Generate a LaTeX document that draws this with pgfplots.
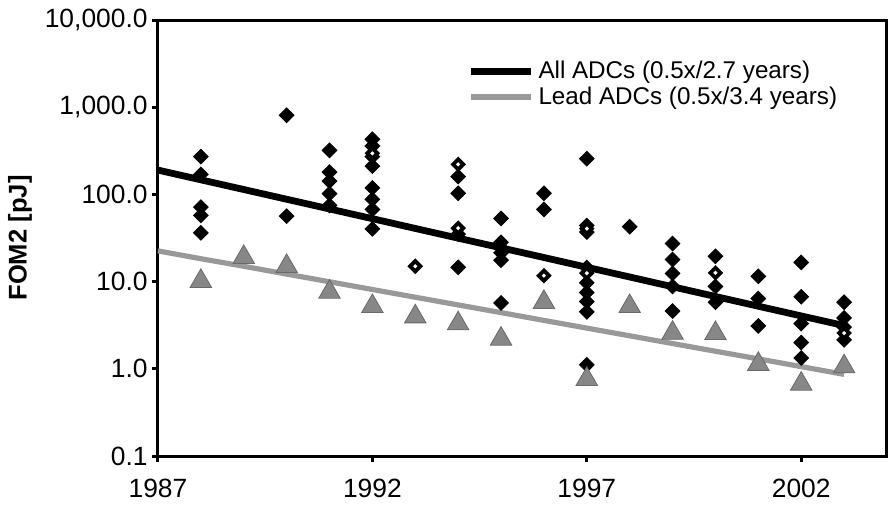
\documentclass[border=0pt]{standalone}
\usepackage{fontspec}
\setmainfont{Liberation Sans}
\usepackage{pgfplots}
\pgfplotsset{compat=1.18}
\definecolor{leadline}{RGB}{153,153,153}
\definecolor{leadtri}{RGB}{135,135,135}
\definecolor{leadedge}{RGB}{105,105,105}

\begin{document}
\begin{tikzpicture}
\begin{axis}[
  scale only axis, width=364.5pt, height=218pt,
  ymode=log, xmin=1987, xmax=2004, ymin=0.1, ymax=10000,
  xtick={1987,1992,1997,2002}, xticklabels={1987,1992,1997,2002},
  ytick={0.1,1,10,100,1000,10000},
  yticklabels={0.1,1.0,10.0,100.0,{1,000.0},{10,000.0}},
  yminorticks=false, xminorticks=false,
  tick pos=left, tick align=outside, major tick length=3pt,
  every tick/.style={black, line width=1.5pt},
  axis line style={line width=1.5pt},
  tick label style={font=\fontsize{13.2}{15}\selectfont},
  yticklabel style={inner xsep=2pt},
  xticklabel style={inner ysep=0pt, yshift=-8.5pt},
  ylabel={FOM2 [pJ]},
  ylabel style={font=\bfseries\fontsize{12.8}{14}\selectfont, at={(axis description cs:-0.1893,0.5)}, anchor=center},
  clip=false,
  legend style={draw=none, fill=none, at={(axis description cs:0.4235,0.906)}, anchor=north west,
    font=\fontsize{12.1}{13}\selectfont, row sep=2.4pt, inner sep=0pt,
    nodes={inner ysep=0pt, inner xsep=2.3pt}},
  legend cell align=left,
  legend image code/.code={\draw[#1] (0pt,0pt) -- (30pt,0pt);},
]
% filled diamonds (all ADCs)
\addplot[only marks, mark=square*, mark size=2.6pt, mark options={rotate=45, fill=black, draw=black}, forget plot] coordinates {
 (1988,271) (1988,170) (1988,71.5) (1988,57.4) (1988,36.3)
 (1990,809) (1990,56.3)
 (1991,320) (1991,180) (1991,142) (1991,102) (1991,74.8)
 (1992,429) (1992,359) (1992,271) (1992,211) (1992,119) (1992,87.7) (1992,67.2) (1992,40.3)
 (1994,160) (1994,103) (1994,35) (1994,14.6)
 (1995,53) (1995,28.3) (1995,24.4) (1995,21.4) (1995,17.6) (1995,5.7)
 (1996,103) (1996,67.2)
 (1997,257) (1997,44) (1997,37) (1997,14.5) (1997,9.7) (1997,7.5) (1997,5.9) (1997,4.5) (1997,1.11)
 (1998,42.6)
 (1999,27.3) (1999,17.9) (1999,12.4) (1999,8.8) (1999,4.6)
 (2000,19.5) (2000,8.8) (2000,5.8)
 (2001,11.5) (2001,6.4) (2001,3.1)
 (2002,16.6) (2002,6.7) (2002,3.3) (2002,2.0) (2002,1.33)
 (2003,5.8) (2003,3.83) (2003,3.01) (2003,2.15)
};
% hollow diamonds
\addplot[only marks, mark=square*, mark size=1.8pt, mark options={rotate=45, fill=white, draw=black, line width=1.9pt}, forget plot] coordinates {
 (1992,296) (1993,15.0) (1994,221) (1994,41) (1996,11.7) (1997,40.5) (1997,12.5) (2000,12.6) (2003,2.57)
};
% lead ADCs triangles
\addplot[only marks, mark=triangle*, mark size=6.2pt, mark options={fill=leadtri, draw=leadedge, line width=0.4pt}, forget plot] coordinates {
 (1988,10.1) (1989,19.0) (1990,15.0) (1991,7.6) (1992,5.2) (1993,3.96) (1994,3.3) (1995,2.2)
 (1996,5.8) (1997,0.76) (1998,5.2) (1999,2.57) (2000,2.55) (2001,1.13) (2002,0.67) (2003,1.06)
};
% trend lines
\addplot[black, line width=3.4pt] coordinates {
 (1987,190) (1988,147) (1989,113.8) (1990,88.0) (1991,68.1) (1992,52.7) (1993,40.7) (1994,31.5)
 (1995,24.4) (1996,18.9) (1997,14.6) (1998,11.3) (1999,8.73) (2000,6.75) (2001,5.22) (2002,4.04) (2003,3.13)
};
\addlegendentry{All ADCs (0.5x/2.7 years)}
\addplot[leadline, line width=2.6pt] coordinates {
 (1987,22.5) (1988,18.3) (1989,15.0) (1990,12.2) (1991,9.95) (1992,8.12) (1993,6.62) (1994,5.40)
 (1995,4.41) (1996,3.59) (1997,2.93) (1998,2.39) (1999,1.95) (2000,1.59) (2001,1.30) (2002,1.06) (2003,0.863)
};
\addlegendentry{Lead ADCs (0.5x/3.4 years)}
\draw[black, line width=1.5pt] (rel axis cs:1,0) -- (rel axis cs:1,1);
\coordinate (bl) at (axis description cs:-0.2167,-0.1193);
\coordinate (tr) at (axis description cs:1.0069,1.0459);
\end{axis}
\path (bl) rectangle (tr);
\end{tikzpicture}
\end{document}
